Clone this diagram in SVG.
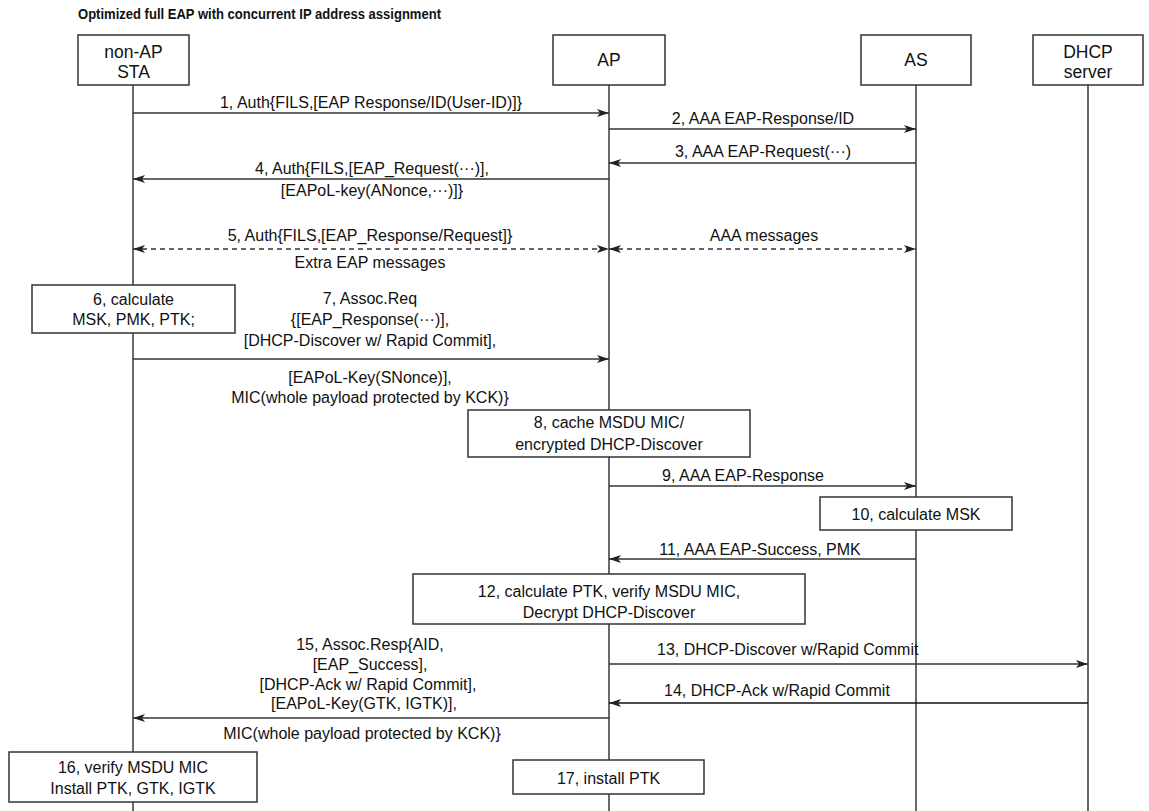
<svg xmlns="http://www.w3.org/2000/svg" width="1149" height="811" viewBox="0 0 1149 811">
<style>
text{font-family:"Liberation Sans",Arial,sans-serif;font-size:16px;fill:#111}
.c{text-anchor:middle}
.hd{font-size:17.5px}
.title{font-weight:bold;font-size:14.5px}
.box{fill:#fff;stroke:#333;stroke-width:1.5}
.life{stroke:#444;stroke-width:1.6}
.msg{stroke:#333;stroke-width:1.6;fill:none;marker-end:url(#ah)}
.dash{stroke-dasharray:5 4;marker-start:url(#ah)}
</style>
<defs>
<marker id="ah" viewBox="0 0 12 8" refX="12" refY="4" markerWidth="12" markerHeight="8" markerUnits="userSpaceOnUse" orient="auto-start-reverse">
<path d="M0,0 L12,4 L0,8 L3,4 z" fill="#222"/>
</marker>
</defs>
<rect width="1149" height="811" fill="#fff"/>
<text class="title" x="78" y="19" textLength="363" lengthAdjust="spacingAndGlyphs">Optimized full EAP with concurrent IP address assignment</text>

<g id="sta">
<line class="life" x1="133" y1="85" x2="133" y2="811"/>
<rect class="box" x="78" y="35" width="111" height="50"/>
<text class="c hd" x="133.5" y="58">non-AP</text>
<text class="c hd" x="133.5" y="78">STA</text>
</g>
<g id="ap">
<line class="life" x1="609" y1="85" x2="609" y2="811"/>
<rect class="box" x="553" y="35" width="112" height="50"/>
<text class="c hd" x="609" y="66">AP</text>
</g>
<g id="as">
<line class="life" x1="916" y1="85" x2="916" y2="811"/>
<rect class="box" x="861" y="35" width="110" height="50"/>
<text class="c hd" x="916" y="66">AS</text>
</g>
<g id="dhcp">
<line class="life" x1="1088" y1="85" x2="1088" y2="811"/>
<rect class="box" x="1033" y="35" width="110" height="50"/>
<text class="c hd" x="1088" y="58">DHCP</text>
<text class="c hd" x="1088" y="78">server</text>
</g>

<g id="step6">
<rect class="box" x="32" y="285" width="203" height="48"/>
<text class="c" x="133.5" y="305">6, calculate</text>
<text class="c" x="133.5" y="325">MSK, PMK, PTK;</text>
</g>
<g id="step8">
<rect class="box" x="468" y="410" width="282" height="47"/>
<text class="c" x="609" y="428">8, cache MSDU MIC/</text>
<text class="c" x="609" y="450">encrypted DHCP-Discover</text>
</g>
<g id="step10">
<rect class="box" x="820" y="497" width="192" height="33"/>
<text class="c" x="916" y="520">10, calculate MSK</text>
</g>
<g id="step12">
<rect class="box" x="413" y="574" width="392" height="50"/>
<text class="c" x="609" y="597">12, calculate PTK, verify MSDU MIC,</text>
<text class="c" x="609" y="618">Decrypt DHCP-Discover</text>
</g>
<g id="step16">
<rect class="box" x="9" y="752" width="248" height="50"/>
<text class="c" x="133" y="773">16, verify MSDU MIC</text>
<text class="c" x="133" y="794">Install PTK, GTK, IGTK</text>
</g>
<g id="step17">
<rect class="box" x="513" y="760" width="191" height="34"/>
<text class="c" x="608.5" y="784">17, install PTK</text>
</g>

<g id="connectors">
<line class="msg" x1="133" y1="113" x2="609" y2="113"/>
<text class="c" x="371" y="108">1, Auth{FILS,[EAP Response/ID(User-ID)]}</text>

<line class="msg" x1="609" y1="129" x2="916" y2="129"/>
<text class="c" x="763" y="124">2, AAA EAP-Response/ID</text>

<line class="msg" x1="916" y1="163" x2="609" y2="163"/>
<text class="c" x="763" y="157">3, AAA EAP-Request(···)</text>

<line class="msg" x1="609" y1="179" x2="133" y2="179"/>
<text class="c" x="372" y="174">4, Auth{FILS,[EAP_Request(···)],</text>
<text class="c" x="372" y="196">[EAPoL-key(ANonce,···)]}</text>

<line class="msg dash" x1="133" y1="249" x2="609" y2="249"/>
<text class="c" x="370" y="241">5, Auth{FILS,[EAP_Response/Request]}</text>
<text class="c" x="370" y="268">Extra EAP messages</text>

<line class="msg dash" x1="609" y1="249" x2="916" y2="249"/>
<text class="c" x="764" y="241">AAA messages</text>

<line class="msg" x1="133" y1="359" x2="609" y2="359"/>
<text class="c" x="370" y="304">7, Assoc.Req</text>
<text class="c" x="370" y="325">{[EAP_Response(···)],</text>
<text class="c" x="370" y="346">[DHCP-Discover w/ Rapid Commit],</text>
<text class="c" x="370" y="383">[EAPoL-Key(SNonce)],</text>
<text class="c" x="370" y="403">MIC(whole payload protected by KCK)}</text>

<line class="msg" x1="609" y1="486" x2="916" y2="486"/>
<text class="c" x="743" y="481">9, AAA EAP-Response</text>

<line class="msg" x1="916" y1="559" x2="609" y2="559"/>
<text class="c" x="760" y="555">11, AAA EAP-Success, PMK</text>

<line class="msg" x1="609" y1="664" x2="1088" y2="664"/>
<text x="657" y="655">13, DHCP-Discover w/Rapid Commit</text>

<line class="msg" x1="1088" y1="703" x2="609" y2="703" style="stroke-width:1.3;stroke:#111"/>
<text x="664" y="696">14, DHCP-Ack w/Rapid Commit</text>

<line class="msg" x1="609" y1="718" x2="133" y2="718"/>
<text class="c" x="370" y="650">15, Assoc.Resp{AID,</text>
<text class="c" x="370" y="670">[EAP_Success],</text>
<text class="c" x="368" y="690">[DHCP-Ack w/ Rapid Commit],</text>
<text class="c" x="364" y="709">[EAPoL-Key(GTK, IGTK)],</text>
<text class="c" x="362" y="739">MIC(whole payload protected by KCK)}</text>
</g>
</svg>
